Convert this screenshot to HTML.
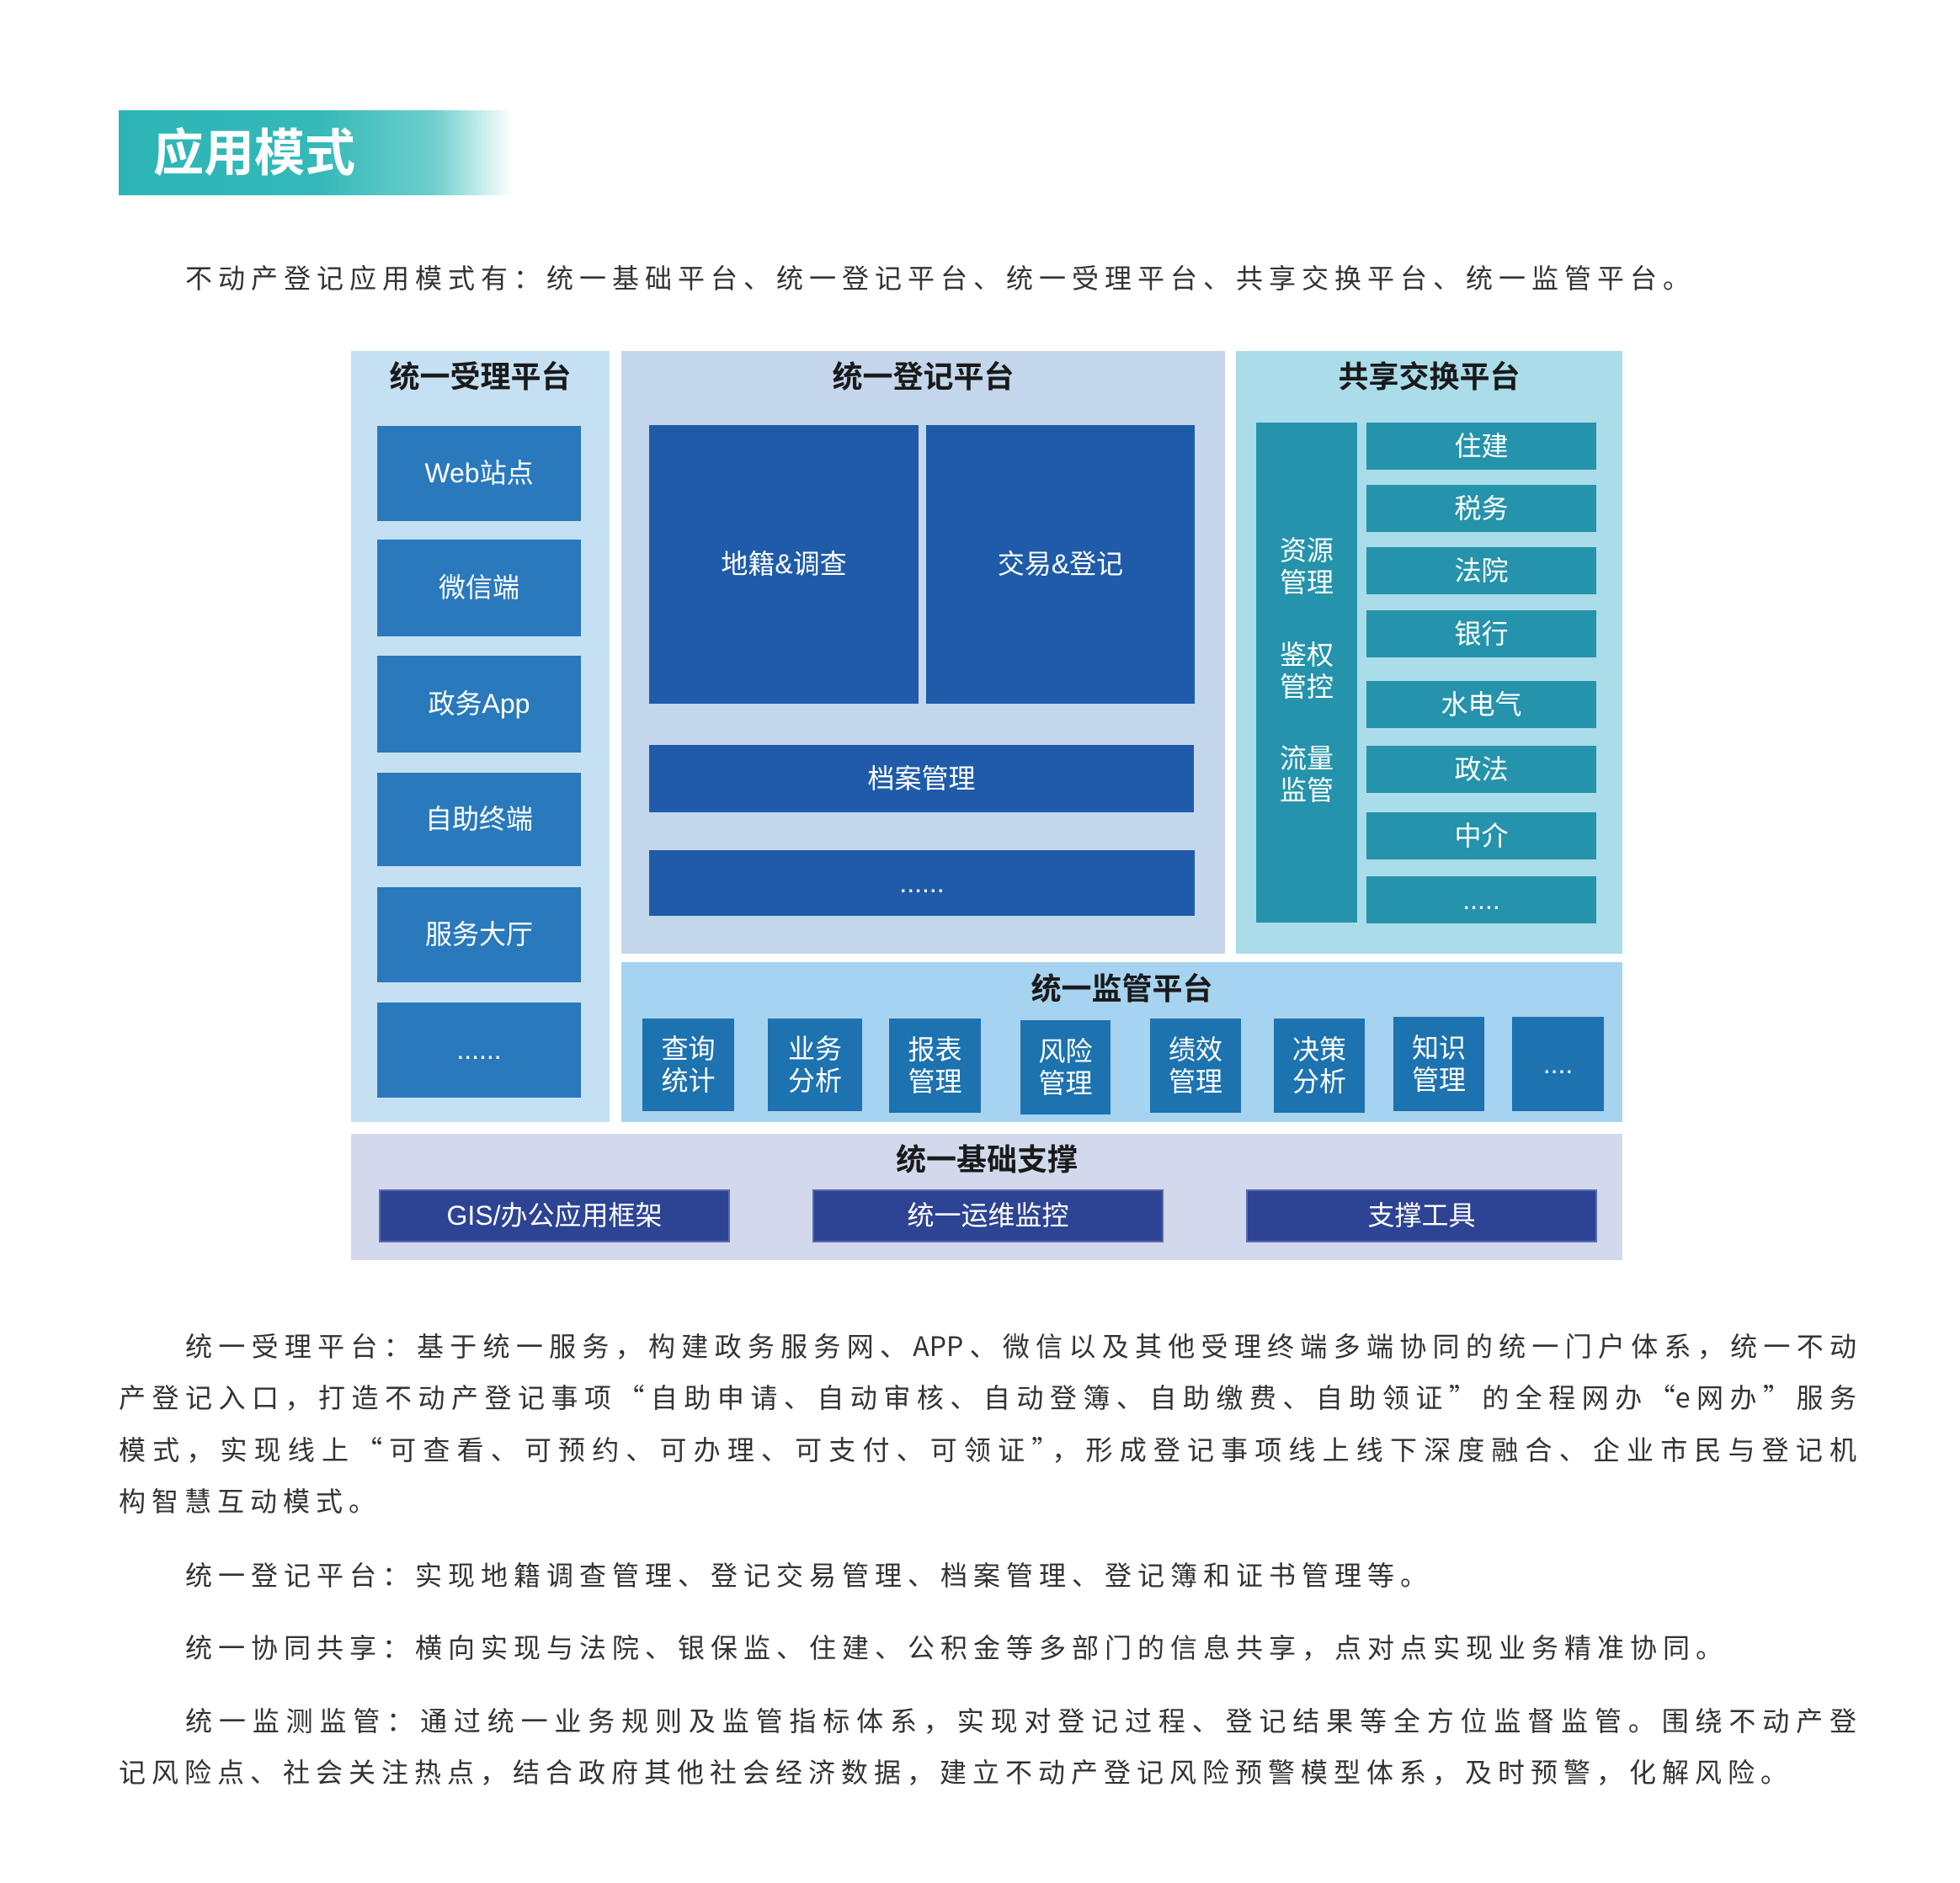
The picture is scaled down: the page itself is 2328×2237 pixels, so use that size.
<!DOCTYPE html>
<html><head><meta charset="utf-8"><style>
*{margin:0;padding:0;box-sizing:border-box}
body{width:2328px;height:2237px;background:#fff;position:relative;overflow:hidden;font-family:"Liberation Sans","Noto Sans CJK SC",sans-serif;color:#222}
.a{position:absolute}
.c{position:absolute;display:flex;align-items:center;justify-content:center;text-align:center;color:#fff;font-size:32px;line-height:1.2}
.t{position:absolute;text-align:center;font-size:36px;font-weight:bold;color:#1a1a1a;line-height:1}
.p{position:absolute;left:141px;width:2064px;font-size:32px;letter-spacing:7px;color:#333;line-height:1;white-space:nowrap;font-family:"Noto Sans CJK SC","Liberation Sans",sans-serif}
.j{text-align:justify;text-align-last:justify;letter-spacing:0}
</style></head><body>
<div class="a" style="left:141px;top:131px;width:468px;height:101px;background:linear-gradient(90deg,#2db5b6 0%,#34b8b8 50%,#6dcfcc 80%,#fff 100%)"></div>
<div class="a" style="left:182px;top:150px;font-size:60px;font-weight:bold;color:#fff;line-height:1.1">应用模式</div>
<div class="p" style="left:220px;top:313px">不动产登记应用模式有：统一基础平台、统一登记平台、统一受理平台、共享交换平台、统一监管平台。</div>

<div class="a" style="left:417px;top:417px;width:307px;height:916px;background:#c5e0f3"></div>
<div class="t" style="left:417px;top:430px;width:307px">统一受理平台</div>
<div class="c" style="left:448px;top:506px;width:242px;height:113px;background:#2a79bd">Web站点</div>
<div class="c" style="left:448px;top:641px;width:242px;height:115px;background:#2a79bd">微信端</div>
<div class="c" style="left:448px;top:779px;width:242px;height:115px;background:#2a79bd">政务App</div>
<div class="c" style="left:448px;top:918px;width:242px;height:111px;background:#2a79bd">自助终端</div>
<div class="c" style="left:448px;top:1054px;width:242px;height:113px;background:#2a79bd">服务大厅</div>
<div class="c" style="left:448px;top:1191px;width:242px;height:113px;background:#2a79bd">......</div>

<div class="a" style="left:738px;top:417px;width:717px;height:716px;background:#c4d6ec"></div>
<div class="t" style="left:738px;top:430px;width:717px">统一登记平台</div>
<div class="c" style="left:771px;top:505px;width:320px;height:331px;background:#1f5ba8">地籍&amp;调查</div>
<div class="c" style="left:1100px;top:505px;width:319px;height:331px;background:#1f5ba8">交易&amp;登记</div>
<div class="c" style="left:771px;top:885px;width:647px;height:80px;background:#1f5ba8">档案管理</div>
<div class="c" style="left:771px;top:1010px;width:648px;height:78px;background:#1f5ba8">......</div>

<div class="a" style="left:1468px;top:417px;width:459px;height:716px;background:#abdcea"></div>
<div class="t" style="left:1468px;top:430px;width:459px">共享交换平台</div>
<div class="a" style="left:1492px;top:502px;width:120px;height:594px;background:#2593ab"></div>
<div class="c" style="left:1492px;top:633px;width:120px;height:80px">资源<br>管理</div>
<div class="c" style="left:1492px;top:757px;width:120px;height:80px">鉴权<br>管控</div>
<div class="c" style="left:1492px;top:880px;width:120px;height:80px">流量<br>监管</div>
<div class="c" style="left:1623px;top:502px;width:273px;height:56px;background:#2593ab">住建</div>
<div class="c" style="left:1623px;top:576px;width:273px;height:56px;background:#2593ab">税务</div>
<div class="c" style="left:1623px;top:650px;width:273px;height:56px;background:#2593ab">法院</div>
<div class="c" style="left:1623px;top:725px;width:273px;height:56px;background:#2593ab">银行</div>
<div class="c" style="left:1623px;top:809px;width:273px;height:56px;background:#2593ab">水电气</div>
<div class="c" style="left:1623px;top:886px;width:273px;height:56px;background:#2593ab">政法</div>
<div class="c" style="left:1623px;top:965px;width:273px;height:56px;background:#2593ab">中介</div>
<div class="c" style="left:1623px;top:1041px;width:273px;height:56px;background:#2593ab">.....</div>

<div class="a" style="left:738px;top:1143px;width:1189px;height:190px;background:#a6d3ef"></div>
<div class="t" style="left:738px;top:1157px;width:1189px">统一监管平台</div>
<div class="c" style="left:763px;top:1210px;width:109px;height:110px;background:#1d72b0">查询<br>统计</div>
<div class="c" style="left:912px;top:1210px;width:112px;height:110px;background:#1d72b0">业务<br>分析</div>
<div class="c" style="left:1056px;top:1210px;width:109px;height:112px;background:#1d72b0">报表<br>管理</div>
<div class="c" style="left:1212px;top:1212px;width:107px;height:112px;background:#1d72b0">风险<br>管理</div>
<div class="c" style="left:1366px;top:1210px;width:108px;height:112px;background:#1d72b0">绩效<br>管理</div>
<div class="c" style="left:1513px;top:1210px;width:108px;height:112px;background:#1d72b0">决策<br>分析</div>
<div class="c" style="left:1655px;top:1208px;width:108px;height:112px;background:#1d72b0">知识<br>管理</div>
<div class="c" style="left:1796px;top:1208px;width:109px;height:112px;background:#1d72b0">....</div>

<div class="a" style="left:417px;top:1347px;width:1510px;height:150px;background:#d3d9ec"></div>
<div class="t" style="left:417px;top:1360px;width:1510px">统一基础支撑</div>
<div class="c" style="left:450px;top:1413px;width:417px;height:63px;background:#2d4393;border:2px solid #5a6ab0">GIS/办公应用框架</div>
<div class="c" style="left:965px;top:1413px;width:417px;height:63px;background:#2d4393;border:2px solid #5a6ab0">统一运维监控</div>
<div class="c" style="left:1480px;top:1413px;width:417px;height:63px;background:#2d4393;border:2px solid #5a6ab0">支撑工具</div>

<div class="p j" style="top:1582px;padding-left:79px">统一受理平台：基于统一服务，构建政务服务网、APP、微信以及其他受理终端多端协同的统一门户体系，统一不动</div>
<div class="p j" style="top:1643px">产登记入口，打造不动产登记事项“自助申请、自动审核、自动登簿、自助缴费、自助领证”的全程网办“e网办”服务</div>
<div class="p j" style="top:1705px">模式，实现线上“可查看、可预约、可办理、可支付、可领证”，形成登记事项线上线下深度融合、企业市民与登记机</div>
<div class="p" style="top:1766px">构智慧互动模式。</div>
<div class="p" style="top:1854px;padding-left:79px">统一登记平台：实现地籍调查管理、登记交易管理、档案管理、登记簿和证书管理等。</div>
<div class="p" style="top:1940px;padding-left:79px">统一协同共享：横向实现与法院、银保监、住建、公积金等多部门的信息共享，点对点实现业务精准协同。</div>
<div class="p j" style="top:2027px;padding-left:79px">统一监测监管：通过统一业务规则及监管指标体系，实现对登记过程、登记结果等全方位监督监管。围绕不动产登</div>
<div class="p" style="top:2088px">记风险点、社会关注热点，结合政府其他社会经济数据，建立不动产登记风险预警模型体系，及时预警，化解风险。</div>
</body></html>
